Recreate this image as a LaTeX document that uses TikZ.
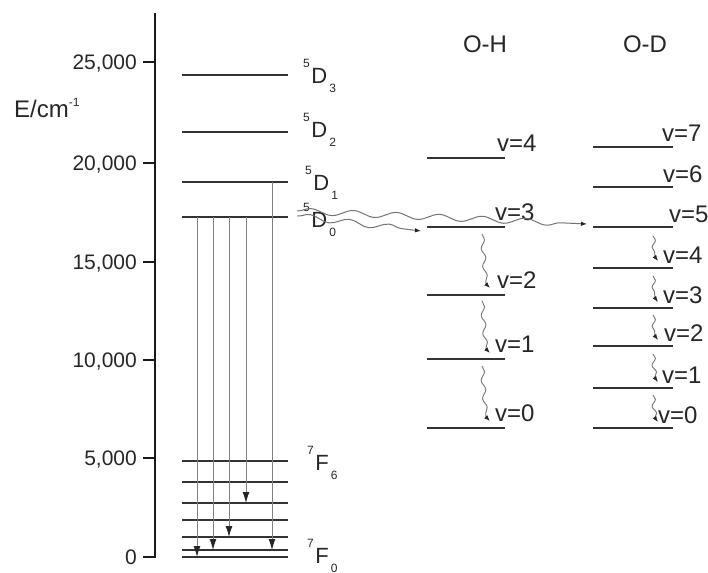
\documentclass[tikz,border=0pt]{standalone}
\usepackage{fontspec}
\setmainfont{Liberation Sans}
\usetikzlibrary{arrows.meta,decorations.pathmorphing}
\newcommand\supsm[1]{{\fontsize{12}{12}\selectfont\raisebox{16pt}{#1}}}
\newcommand\subsm[1]{{\fontsize{12}{12}\selectfont\raisebox{-9pt}{#1}}}
\begin{document}
\begin{tikzpicture}[x=1pt,y=-1pt,
  every node/.style={inner sep=0pt,text=black!85},
  lvl/.style={draw=black!80,line width=1.8pt},
  axisln/.style={draw=black!90,line width=2.4pt},
  tickln/.style={draw=black!90,line width=2pt},
  ticklab/.style={anchor=base east,font=\fontsize{21}{21}\selectfont},
  termlab/.style={anchor=base west,font=\fontsize{22}{22}\selectfont},
  vlab/.style={anchor=base west,font=\fontsize{24}{24}\selectfont},
  titlab/.style={anchor=center,font=\fontsize{24}{24}\selectfont},
  emis/.style={draw=black!50,line width=0.9pt,-{Latex[length=11pt,width=7pt,color=black!85]}},
  longwave/.style={draw=black!55,line width=1pt,decorate,
     decoration={snake,amplitude=3pt,segment length=43pt,post length=6pt},
     -{Latex[length=6pt,width=4.5pt,color=black!85]}},
  wig/.style={draw=black!55,line width=0.9pt,-{Latex[length=6pt,width=4.5pt,color=black!85]}},
]
\useasboundingbox (0,0) rectangle (708,572);

% axis
\coordinate (axTop) at (155,13);
\coordinate (axBot) at (155,558);
\draw[axisln] (axTop) -- (axBot);
\foreach \v/\y in {25{,}000/62,20{,}000/163,15{,}000/262,10{,}000/360,5{,}000/458,0/557}{
  \coordinate (tk-\y) at (155,\y);
  \coordinate (tkl-\y) at (143,\y);
  \draw[tickln] (tkl-\y) -- (tk-\y);
  \node[ticklab] (tl-\y) at (137,\y+7.5) {\v};
}
\node[anchor=base west,font=\fontsize{24}{24}\selectfont] (elab) at (14,118)
  {E/cm\raisebox{11pt}{\fontsize{12}{12}\selectfont -1}};

% Eu levels
\foreach \n/\y in {D3/75,D2/132,D1/182,D0/217,F6/461,F5/482,F4/503,F3/520,F2/537,F1/550,F0/557}{
  \coordinate (\n-L) at (182,\y);
  \coordinate (\n-R) at (288,\y);
  \draw[lvl] (\n-L) -- (\n-R);
}
\node[termlab] (tD3) at (303,84) {\supsm{5}\kern1.5pt D\kern2pt\subsm{3}};
\node[termlab] (tD2) at (303,138) {\supsm{5}\kern1.5pt D\kern2pt\subsm{2}};
\node[termlab] (tD1) at (305,190) {\supsm{5}\kern1.5pt D\kern2pt\subsm{1}};
\node[termlab] (tD0) at (303,227) {\supsm{5}\kern1.5pt D\kern2pt\subsm{0}};
\node[termlab] (tF6) at (307,470) {\supsm{7}\kern1.5pt F\kern2pt\subsm{6}};
\node[termlab] (tF0) at (307,563) {\supsm{7}\kern1.5pt F\kern2pt\subsm{0}};

% emission lines
\coordinate (e1) at (197,0);
\coordinate (e2) at (213,0);
\coordinate (e3) at (229,0);
\coordinate (e4) at (246,0);
\coordinate (e5) at (272,0);
\draw[emis] (e1 |- D0-L) -- (e1 |- F0-L);
\draw[emis] (e2 |- D0-L) -- (e2 |- F1-L);
\draw[emis] (e3 |- D0-L) -- (e3 |- F2-L);
\draw[emis] (e4 |- D0-L) -- (e4 |- F4-L);
\draw[emis] (e5 |- D1-L) -- (e5 |- F1-L);

% titles
\node[titlab] (tOH) at (485,44) {O-H};
\node[titlab] (tOD) at (645,44) {O-D};

% O-H levels
\foreach \n/\y/\lx in {4/158/497,3/227/495,2/295/497,1/359/495,0/428/495}{
  \coordinate (H\n-L) at (427,\y);
  \coordinate (H\n-R) at (505,\y);
  \draw[lvl] (H\n-L) -- (H\n-R);
  \node[vlab] (Hl\n) at (\lx,\y-6.5) {v=\n};
}
% O-D levels
\foreach \n/\y/\lx in {7/147/662,6/187/663,5/227/669,4/268/663,3/308/663,2/346/664,1/388/662,0/428/658}{
  \coordinate (D\n-L) at (593,\y);
  \coordinate (D\n-R) at (673,\y);
  \draw[lvl] (D\n-L) -- (D\n-R);
  \node[vlab] (Dl\n) at (\lx,\y-5) {v=\n};
}

% long wavy transfers
\coordinate (wAs) at (297,211);
\coordinate (wAe) at (587,224);
\coordinate (wBs) at (297,216);
\coordinate (wBe) at (421,231);
\draw[longwave] (wAs) -- (wAe);
\draw[longwave,decoration={snake,amplitude=3pt,segment length=40pt,post length=6pt}] (wBs) -- (wBe);

% O-H relaxation wiggles
\foreach \a/\b/\k in {234/284/1,301/349/2,366/417/3}{
  \coordinate (hs\k) at (482,\a);
  \coordinate (he\k) at (486,\b);
  \coordinate (ht\k) at (490,\b+4);
  \draw[wig] (hs\k) decorate[decoration={snake,amplitude=2pt,segment length=18pt}] {-- (he\k)} -- (ht\k);
}
% O-D relaxation wiggles
\foreach \a/\b/\k in {236/257/1,276/298/2,315/336/3,354/378/4,395/418/5}{
  \coordinate (ds\k) at (653,\a);
  \coordinate (de\k) at (655,\b);
  \coordinate (dt\k) at (658,\b+4);
  \draw[wig] (ds\k) decorate[decoration={snake,amplitude=2pt,segment length=14pt}] {-- (de\k)} -- (dt\k);
}
\end{tikzpicture}
\end{document}
